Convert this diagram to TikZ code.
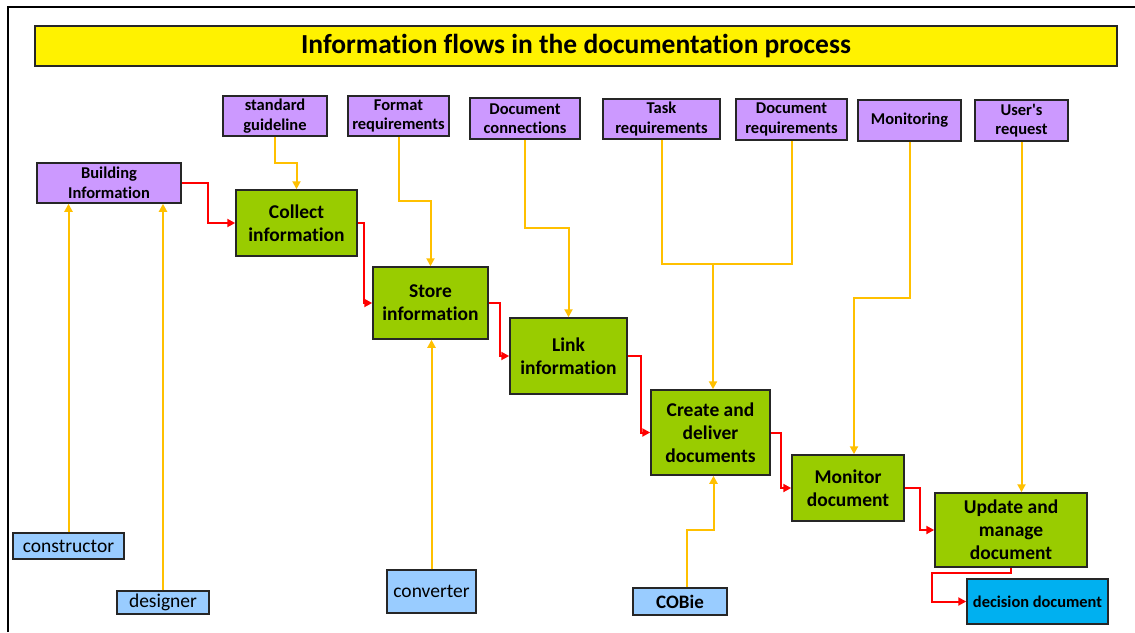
\documentclass[tikz,border=0pt]{standalone}
\usepackage{fontspec}
\setmainfont{Carlito}[Ligatures={TeX,NoCommon}]
\usetikzlibrary{arrows.meta}

\definecolor{boxpurple}{HTML}{CC99FF}
\definecolor{boxgreen}{HTML}{99CC00}
\definecolor{boxblue}{HTML}{99CCFF}
\definecolor{boxcyan}{HTML}{00B0F0}
\definecolor{feedline}{HTML}{FFC000}
\definecolor{edgegray}{HTML}{262626}

\tikzset{
  box/.style={draw=edgegray, line width=1.5pt, inner sep=0pt, align=center, text=black},
  inbox/.style={box, fill=boxpurple, font=\fontsize{16.5}{19.5}\selectfont\bfseries},
  procbox/.style={box, fill=boxgreen, font=\fontsize{19.5}{23}\selectfont\bfseries},
  actor/.style={box, fill=boxblue, font=\fontsize{19.5}{22}\selectfont},
  flow/.style={draw=red, line width=2pt, -{Triangle[length=8pt,width=8pt]}},
  feed/.style={draw=feedline, line width=2pt},
  feedarrow/.style={feed, -{Triangle[length=8pt,width=8pt]}}
}

\begin{document}
\begin{tikzpicture}[x=1pt,y=1pt,yscale=-1,xscale=1]
\useasboundingbox (0,0) rectangle (1135,632);

%Shape: Frame
\draw[line width=2.5pt] (8,632) -- (8,7) -- (1135,7);

%Shape: Title
\node[box, fill=yellow, minimum width=1082pt, minimum height=40pt, font=\fontsize{27.5}{32}\selectfont\bfseries] (title) at (576,46) {Information flows in the documentation process};

%Shape: Inputs
\node[inbox, minimum width=144pt, minimum height=40pt] (build) at (109,183) {Building\\Information};
\node[inbox, minimum width=104pt, minimum height=40pt] (guide) at (275,116) {standard\\guideline};
\node[inbox, minimum width=101pt, minimum height=40pt] (format) at (398.5,116) {Format\\requirements};
\node[inbox, minimum width=110pt, minimum height=41pt] (docconn) at (525,118.5) {Document\\connections};
\node[inbox, minimum width=117pt, minimum height=40pt] (task) at (661.5,119) {Task\\requirements};
\node[inbox, minimum width=111pt, minimum height=41pt] (docreq) at (791.5,119.5) {Document\\requirements};
\node[inbox, minimum width=103pt, minimum height=41pt] (monitoring) at (909.5,120.5) {Monitoring};
\node[inbox, minimum width=93pt, minimum height=41pt] (user) at (1021.5,120.5) {User\textquotesingle s\\request};

%Shape: Steps
\node[procbox, minimum width=121pt, minimum height=66pt] (collect) at (296.5,223) {Collect\\information};
\node[procbox, minimum width=115pt, minimum height=72pt] (store) at (430.5,303) {Store\\information};
\node[procbox, minimum width=117pt, minimum height=76pt] (link) at (568.5,356) {Link\\information};
\node[procbox, minimum width=119pt, minimum height=85pt] (create) at (710.5,432.5) {Create and\\deliver\\documents};
\node[procbox, minimum width=112pt, minimum height=66pt] (monitor) at (848,488) {Monitor\\document};
\node[procbox, minimum width=152pt, minimum height=74pt] (update) at (1011,530) {Update and\\manage\\document};
\node[box, fill=boxcyan, minimum width=141pt, minimum height=45pt, font=\fontsize{16.4}{19}\selectfont\bfseries] (decision) at (1037.5,601.5) {decision document};

%Shape: Actors
\node[actor, minimum width=111pt, minimum height=26pt] (constr) at (68.5,546) {constructor};
\node[actor, minimum width=92pt, minimum height=23pt] (designer) at (163,602.5) {designer};
\node[actor, minimum width=89pt, minimum height=43pt] (conv) at (431.5,591.5) {converter};
\node[actor, minimum width=94pt, minimum height=27pt, font=\fontsize{19}{22}\selectfont\bfseries] (cobie) at (680,601.5) {COBie};

%Straight Lines: process chain
\draw[flow] (build.east) -- ++(26,0) |- (collect.west);
\draw[flow] (collect.east) -- ++(6,0) |- (store.west);
\draw[flow] (store.east) -- ++(11,0) |- (link.west);
\draw[flow] (link.east) -- ++(13,0) |- (create.west);
\draw[flow] (create.east) -- ++(10,0) |- (monitor.west);
\draw[flow] (monitor.east) -- ++(15,0) |- (update.west);
\draw[flow] (update.south) -- ++(0,5) -- ++(-79,0) |- (decision.west);

%Straight Lines: inputs from above
\draw[feedarrow] (guide.south) -- ++(0,26) -| (collect.north);
\draw[feedarrow] (format.south) -- ++(0,64) -| (store.north);
\draw[feedarrow] (docconn.south) -- ++(0,88) -| (link.north);
\coordinate (tjoin) at (713,264);
\draw[feed] (task.south) |- (tjoin) -| (docreq.south);
\draw[feedarrow] (tjoin) -- (tjoin |- create.north);
\draw[feedarrow] (monitoring.south) -- ++(0,156) -| ([xshift=6pt]monitor.north);
\draw[feedarrow] (user.south) -- (user.south |- update.north);

%Straight Lines: inputs from below
\draw[feedarrow] (constr.north) -- (constr.north |- build.south);
\draw[feedarrow] (designer.north) -- (designer.north |- build.south);
\draw[feedarrow] (conv.north) -- (conv.north |- store.south);
\draw[feedarrow] ([xshift=7pt]cobie.north) -- ++(0,-57) -| ([xshift=3pt]create.south);
\end{tikzpicture}
\end{document}
